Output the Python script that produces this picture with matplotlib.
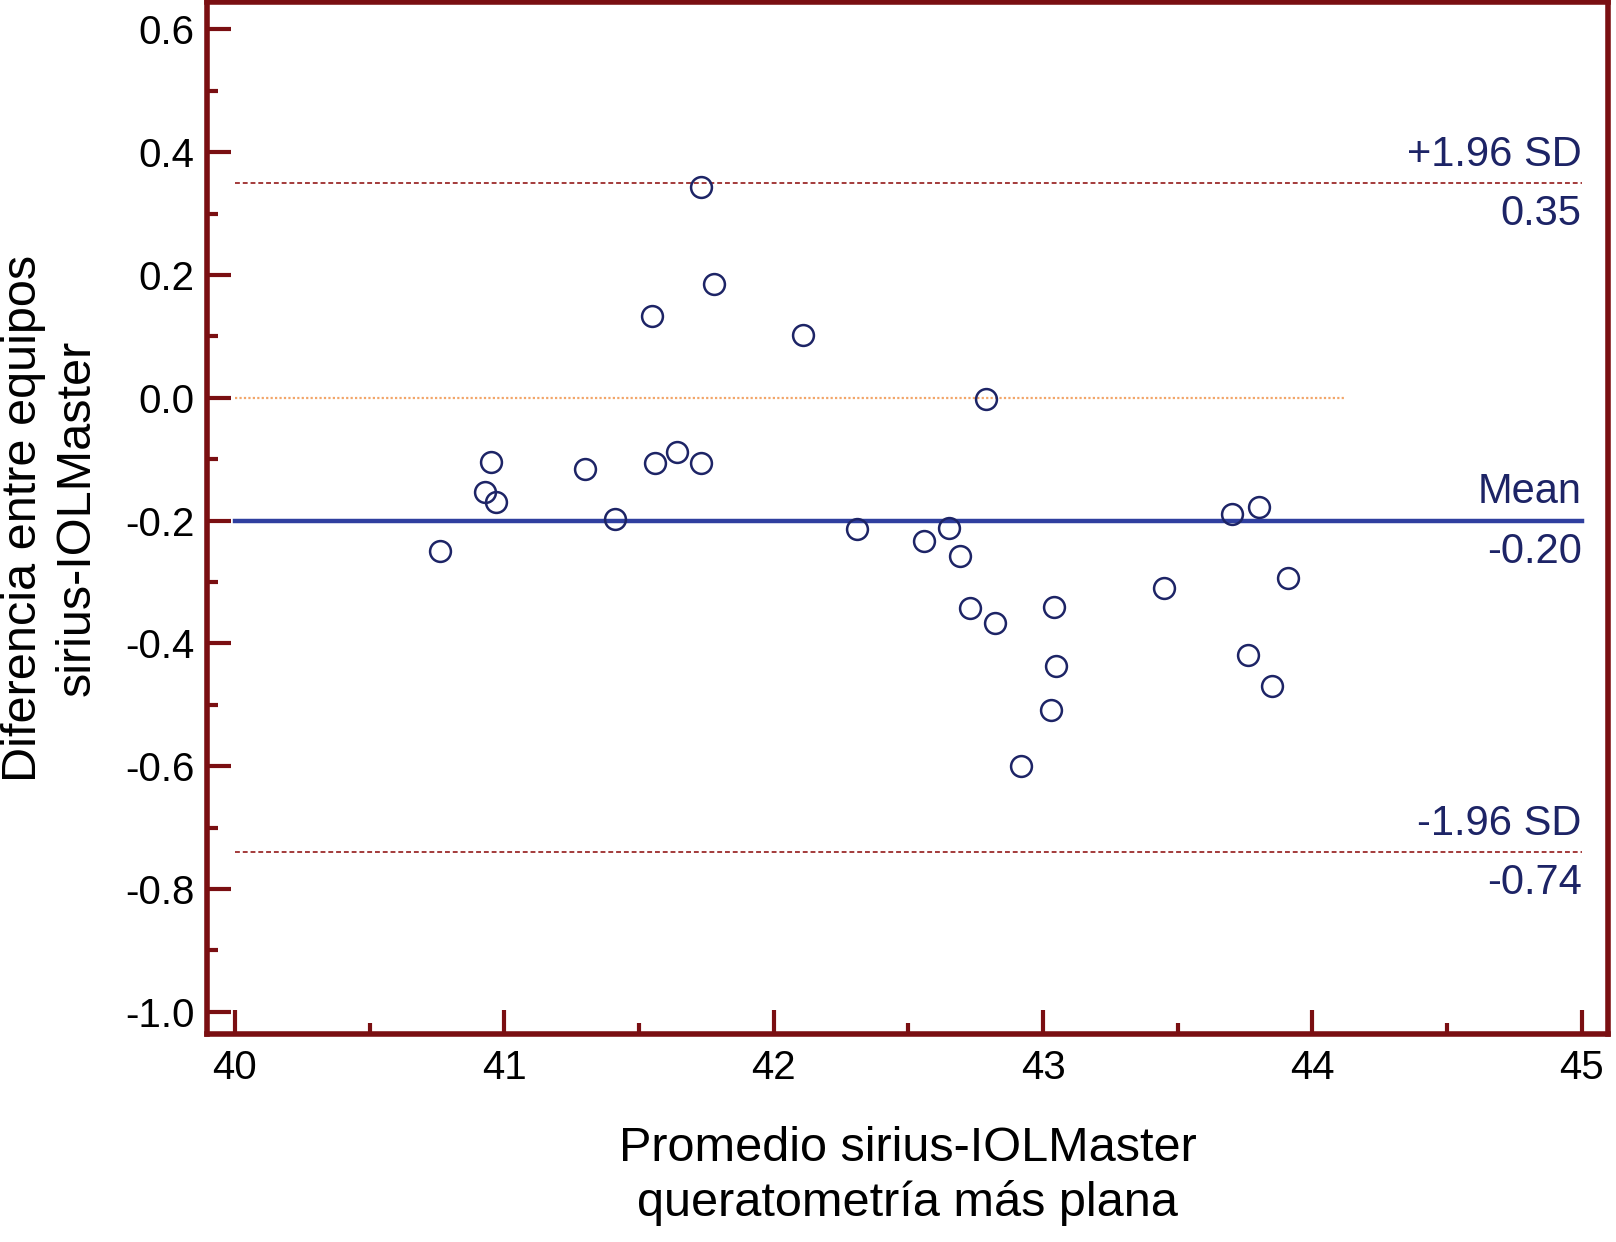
import matplotlib
matplotlib.use("Agg")
import matplotlib.pyplot as plt
from matplotlib.ticker import MultipleLocator, FormatStrFormatter

plt.rcParams['font.family'] = ['Liberation Sans', 'DejaVu Sans']

# Bland-Altman data: mean of sirius & IOLMaster (x) vs difference (y)
promedio = [40.76, 40.93, 40.95, 40.97, 41.30, 41.41, 41.55, 41.56, 41.64, 41.73,
            41.73, 41.78, 42.11, 42.31, 42.56, 42.65, 42.69, 42.73, 42.79, 42.82,
            42.92, 43.04, 43.05, 43.03, 43.45, 43.70, 43.80, 43.76, 43.85, 43.91]
diferencia = [-0.249, -0.153, -0.105, -0.170, -0.116, -0.197, 0.133, -0.106, -0.088, 0.344,
              -0.106, 0.185, 0.103, -0.214, -0.233, -0.212, -0.258, -0.342, -0.002, -0.366,
              -0.600, -0.341, -0.437, -0.509, -0.310, -0.189, -0.177, -0.418, -0.469, -0.293]

mean_diff = -0.20
upper_loa = 0.35
lower_loa = -0.74
line_x = [40, 45]
zero_x = [40, 44.12]

labels_upper = ["+1.96 SD", "0.35"]
labels_mean = ["Mean", "-0.20"]
labels_lower = ["-1.96 SD", "-0.74"]

xlabel = "Promedio sirius-IOLMaster\nqueratometría más plana"
ylabel = "Diferencia entre equipos\nsirius-IOLMaster"

spine_col = "#7a0f12"
navy = "#1d2466"
blue = "#2f3f9f"
dash_col = "#a33a3a"
zero_col = "#f2a66a"

fig = plt.figure(figsize=(16.16, 12.42), dpi=100)
ax = fig.add_axes([0.128, 0.1675, 0.867, 0.8305])

ax.plot(zero_x, [0, 0], linestyle=(0, (1, 1)), color=zero_col, linewidth=1.6, zorder=1)
ax.plot(line_x, [upper_loa, upper_loa], linestyle=(0, (2.5, 1.5)), color=dash_col, linewidth=1.4, zorder=1)
ax.plot(line_x, [lower_loa, lower_loa], linestyle=(0, (2.5, 1.5)), color=dash_col, linewidth=1.4, zorder=1)
ax.plot(line_x, [mean_diff, mean_diff], color=blue, linewidth=3.2, zorder=2)

ax.plot(promedio, diferencia, linestyle='none', marker='o', markersize=15,
        markerfacecolor='none', markeredgecolor=navy, markeredgewidth=1.8, zorder=3)

for yv, labs in [(upper_loa, labels_upper), (mean_diff, labels_mean), (lower_loa, labels_lower)]:
    ax.annotate(labs[0], xy=(45, yv), xytext=(0, 6), textcoords='offset points',
                ha='right', va='bottom', fontsize=30, color=navy)
    ax.annotate(labs[1], xy=(45, yv), xytext=(0, -8), textcoords='offset points',
                ha='right', va='top', fontsize=30, color=navy)

ax.set_xlim(39.896, 45.097)
ax.set_ylim(-1.036, 0.644)

ax.xaxis.set_major_locator(MultipleLocator(1))
ax.xaxis.set_minor_locator(MultipleLocator(0.5))
ax.yaxis.set_major_locator(MultipleLocator(0.2))
ax.yaxis.set_minor_locator(MultipleLocator(0.1))
ax.yaxis.set_major_formatter(FormatStrFormatter('%.1f'))

ax.tick_params(axis='both', which='major', direction='in', length=17, width=3,
               color=spine_col, labelsize=29, labelcolor='black')
ax.tick_params(axis='both', which='minor', direction='in', length=8, width=3, color=spine_col)
ax.tick_params(axis='x', which='major', pad=11)
ax.tick_params(axis='y', which='major', pad=9)
ax.tick_params(top=False, right=False, which='both')

for s in ax.spines.values():
    s.set_color(spine_col)
    s.set_linewidth(4)

ax.set_xlabel(xlabel, fontsize=35, labelpad=28, linespacing=1.25)
ax.set_ylabel(ylabel, fontsize=35, labelpad=18, linespacing=1.25)

fig.savefig("out.png", dpi=100)
